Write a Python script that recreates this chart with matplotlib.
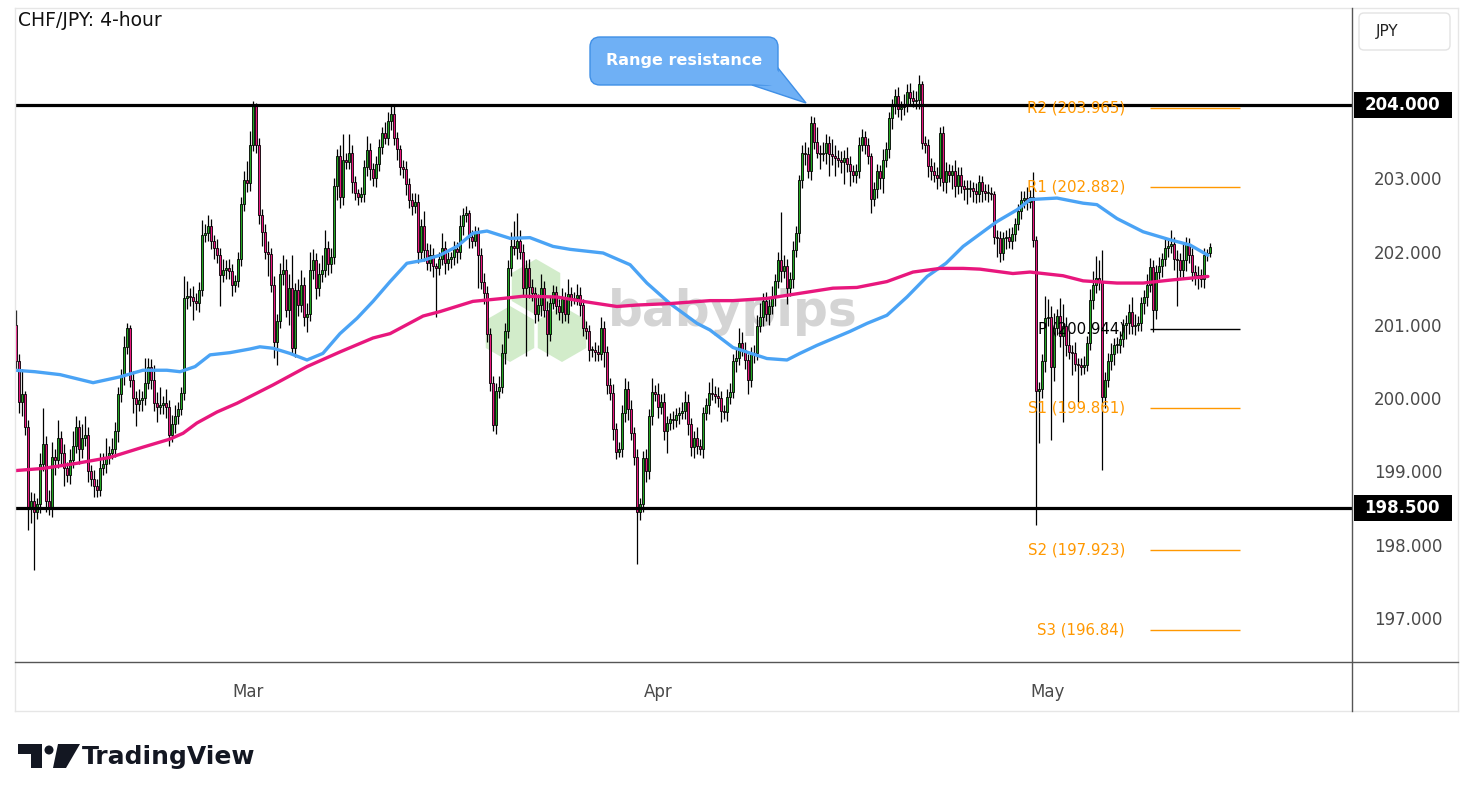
import matplotlib
matplotlib.use("Agg")
import matplotlib.pyplot as plt
from matplotlib.patches import FancyBboxPatch, Polygon, RegularPolygon, Rectangle, Circle
import numpy as np

# ---------------- data ----------------
title = "CHF/JPY: 4-hour"
first_open = 201.00
closes = [
    200.50, 199.95, 200.05, 199.60, 198.50, 198.60, 198.45, 198.55, 199.10, 199.38,
    198.60, 198.50, 199.20, 199.15, 199.45, 199.25, 199.05, 198.95, 199.15, 199.35,
    199.60, 199.30, 199.45, 199.50, 199.00, 198.90, 198.80, 198.75, 199.05, 199.10,
    199.20, 199.25, 199.30, 199.55, 200.05, 200.30, 200.70, 200.95, 200.25, 200.00,
    199.92, 199.97, 200.00, 200.20, 200.43, 200.25, 199.93, 199.88, 199.90, 199.93,
    199.88, 199.50, 199.65, 199.75, 199.85, 200.07, 201.37, 201.40, 201.38, 201.32,
    201.30, 201.48, 202.23, 202.25, 202.35, 202.15, 202.05, 201.95, 201.68, 201.75,
    201.78, 201.73, 201.55, 201.60, 201.90, 202.65, 202.98, 202.93, 203.45, 203.98,
    203.45, 202.50, 202.27, 202.00, 201.97, 201.55, 200.77, 201.05, 201.70, 201.75,
    201.20, 201.50, 200.68, 201.47, 201.27, 201.55, 201.10, 201.15, 201.75, 201.88,
    201.50, 201.70, 201.75, 202.05, 201.83, 201.93, 202.90, 203.30, 202.75, 203.25,
    203.22, 203.35, 202.95, 202.80, 202.75, 202.78, 203.15, 203.38, 203.13, 203.00,
    203.20, 203.43, 203.62, 203.55, 203.78, 203.88, 203.55, 203.40, 203.15, 203.13,
    202.92, 202.70, 202.62, 202.68, 202.00, 202.35, 202.02, 201.85, 201.95, 201.80,
    201.78, 201.90, 202.05, 201.85, 201.90, 201.92, 202.03, 202.00, 202.35, 202.50,
    202.52, 202.20, 202.15, 202.25, 201.95, 201.59, 201.43, 200.88, 200.20, 199.63,
    200.10, 200.15, 200.62, 200.92, 201.78, 202.07, 202.05, 202.15, 202.00, 201.50,
    201.78, 201.52, 201.43, 201.15, 201.27, 201.50, 201.20, 200.88, 201.30, 201.45,
    201.25, 201.18, 201.35, 201.15, 201.42, 201.36, 201.37, 201.41, 201.27, 200.95,
    200.92, 200.66, 200.66, 200.63, 200.60, 200.95, 200.63, 200.18, 200.07, 199.58,
    199.27, 199.30, 199.80, 200.13, 199.85, 199.53, 199.20, 198.45, 198.55, 199.18,
    199.00, 199.75, 200.08, 200.06, 199.88, 199.95, 199.55, 199.66, 199.72, 199.70,
    199.77, 199.80, 199.82, 199.95, 199.65, 199.33, 199.45, 199.34, 199.30, 199.80,
    199.90, 200.07, 200.06, 200.03, 200.00, 199.83, 199.81, 200.02, 200.08, 200.50,
    200.55, 200.75, 200.66, 200.52, 200.25, 200.60, 200.62, 200.98, 201.10, 201.33,
    201.15, 201.25, 201.38, 201.60, 201.89, 201.74, 201.80, 201.50, 201.62, 202.02,
    202.25, 202.97, 203.35, 203.33, 203.10, 203.75, 203.50, 203.35, 203.33, 203.35,
    203.48, 203.33, 203.30, 203.28, 203.25, 203.22, 203.28, 203.20, 203.10, 203.05,
    203.10, 203.45, 203.57, 203.45, 203.30, 202.72, 202.85, 203.10, 203.00, 203.25,
    203.40, 203.82, 203.98, 204.12, 203.95, 203.97, 204.00, 204.18, 204.10, 204.05,
    204.07, 204.28, 203.48, 203.45, 203.17, 203.10, 203.05, 203.00, 203.62, 202.95,
    203.10, 203.05, 203.10, 202.90, 203.05, 202.90, 202.85, 202.85, 202.87, 202.82,
    202.78, 202.95, 202.82, 202.80, 202.80, 202.78, 202.20, 202.18, 201.98, 202.18,
    202.20, 202.15, 202.24, 202.38, 202.55, 202.71, 202.73, 202.67, 202.74, 202.16,
    200.09, 200.12, 200.50, 201.09, 201.10, 200.43, 200.96, 201.12, 200.85, 200.98,
    200.72, 200.63, 200.61, 200.47, 200.45, 200.43, 200.45, 200.75, 201.34, 201.54,
    201.64, 201.60, 200.02, 200.25, 200.50, 200.60, 200.72, 200.73, 200.80, 201.00,
    201.03, 201.18, 200.98, 201.00, 201.02, 201.30, 201.38, 201.55, 201.79, 201.20,
    201.72, 201.80, 201.90, 202.05, 202.08, 202.10, 201.90, 201.88, 201.75, 201.88,
    202.10, 201.95, 201.72, 201.64, 201.68, 201.62, 201.95, 201.98, 202.06,
]
wick_up = [
    0.20, 0.10, 0.35, 0.05, 0.10, 0.12, 0.10, 0.08, 0.15, 0.48, 0.10, 0.15, 0.20, 0.10, 0.25, 0.10, 0.12, 0.08, 0.15, 0.20,
    0.15, 0.10, 0.20, 0.25, 0.10, 0.08, 0.12, 0.10, 0.20, 0.15, 0.25, 0.10, 0.15, 0.12, 0.10, 0.10, 0.15, 0.08, 0.05, 0.12,
    0.10, 0.15, 0.10, 0.35, 0.12, 0.10, 0.20, 0.15, 0.25, 0.10, 0.20, 0.10, 0.12, 0.15, 0.10, 0.08, 0.30, 0.20, 0.10, 0.15,
    0.12, 0.10, 0.20, 0.12, 0.15, 0.10, 0.08, 0.12, 0.10, 0.15, 0.10, 0.12, 0.10, 0.08, 0.10, 0.10, 0.12, 0.25, 0.20, 0.07,
    0.05, 0.10, 0.08, 0.10, 0.15, 0.08, 0.12, 0.10, 0.15, 0.20, 0.15, 0.20, 0.45, 0.10, 0.15, 0.20, 0.10, 0.15, 0.25, 0.15,
    0.10, 0.15, 0.20, 0.25, 0.10, 0.12, 0.10, 0.10, 0.15, 0.35, 0.10, 0.25, 0.10, 0.08, 0.05, 0.10, 0.10, 0.20, 0.10, 0.08,
    0.10, 0.10, 0.08, 0.15, 0.12, 0.14, 0.10, 0.08, 0.05, 0.10, 0.10, 0.08, 0.10, 0.12, 0.10, 0.10, 0.20, 0.10, 0.15, 0.10,
    0.05, 0.10, 0.20, 0.10, 0.10, 0.08, 0.12, 0.10, 0.15, 0.10, 0.10, 0.05, 0.10, 0.10, 0.08, 0.10, 0.12, 0.10, 0.08, 0.10,
    0.10, 0.15, 0.12, 0.10, 0.10, 0.20, 0.35, 0.38, 0.15, 0.10, 0.10, 0.12, 0.10, 0.08, 0.15, 0.20, 0.10, 0.12, 0.10, 0.10,
    0.08, 0.10, 0.15, 0.10, 0.20, 0.10, 0.08, 0.15, 0.10, 0.08, 0.10, 0.08, 0.05, 0.10, 0.10, 0.15, 0.10, 0.08, 0.10, 0.12,
    0.08, 0.10, 0.10, 0.15, 0.10, 0.12, 0.08, 0.10, 0.08, 0.10, 0.12, 0.10, 0.20, 0.10, 0.15, 0.10, 0.12, 0.10, 0.08, 0.10,
    0.10, 0.08, 0.12, 0.15, 0.10, 0.08, 0.10, 0.15, 0.10, 0.08, 0.10, 0.15, 0.20, 0.10, 0.12, 0.10, 0.08, 0.10, 0.12, 0.10,
    0.12, 0.20, 0.15, 0.10, 0.08, 0.10, 0.10, 0.15, 0.20, 0.10, 0.12, 0.10, 0.15, 0.10, 0.10, 0.65, 0.15, 0.10, 0.10, 0.12,
    0.10, 0.08, 0.10, 0.15, 0.10, 0.10, 0.08, 0.20, 0.10, 0.15, 0.12, 0.10, 0.20, 0.15, 0.10, 0.12, 0.10, 0.15, 0.10, 0.08,
    0.10, 0.12, 0.10, 0.08, 0.10, 0.05, 0.10, 0.10, 0.08, 0.15, 0.10, 0.08, 0.10, 0.10, 0.12, 0.08, 0.15, 0.10, 0.12, 0.10,
    0.12, 0.13, 0.05, 0.10, 0.08, 0.10, 0.12, 0.10, 0.08, 0.10, 0.12, 0.10, 0.08, 0.15, 0.10, 0.10, 0.08, 0.12, 0.10, 0.08,
    0.12, 0.10, 0.08, 0.10, 0.12, 0.08, 0.05, 0.10, 0.10, 0.08, 0.10, 0.12, 0.10, 0.08, 0.10, 0.12, 0.10, 0.15, 0.10, 0.35,
    0.05, 0.10, 0.10, 0.30, 0.25, 0.15, 0.20, 0.10, 0.25, 0.30, 0.12, 0.20, 0.10, 0.15, 0.08, 0.10, 0.12, 0.10, 0.15, 0.20,
    0.30, 0.25, 0.42, 0.10, 0.12, 0.15, 0.10, 0.10, 0.12, 0.08, 0.10, 0.10, 0.20, 0.15, 0.10, 0.08, 0.10, 0.15, 0.12, 0.10,
    0.10, 0.12, 0.08, 0.15, 0.10, 0.20, 0.10, 0.12, 0.10, 0.25, 0.10, 0.08, 0.10, 0.10, 0.12, 0.08, 0.10, 0.05, 0.05,
]
wick_dn = [
    0.10, 0.15, 0.20, 0.10, 0.30, 0.20, 0.80, 0.10, 0.12, 0.10, 0.15, 0.10, 0.12, 0.20, 0.10, 0.15, 0.25, 0.10, 0.12, 0.10,
    0.10, 0.20, 0.12, 0.10, 0.15, 0.10, 0.15, 0.10, 0.08, 0.10, 0.12, 0.10, 0.08, 0.10, 0.15, 0.10, 0.12, 0.10, 0.10, 0.20,
    0.30, 0.10, 0.15, 0.10, 0.08, 0.12, 0.10, 0.20, 0.10, 0.12, 0.15, 0.15, 0.10, 0.12, 0.10, 0.08, 0.10, 0.15, 0.12, 0.25,
    0.10, 0.12, 0.08, 0.10, 0.10, 0.12, 0.15, 0.10, 0.42, 0.10, 0.12, 0.10, 0.15, 0.10, 0.08, 0.10, 0.10, 0.12, 0.10, 0.08,
    0.10, 0.12, 0.20, 0.10, 0.30, 0.10, 0.22, 0.32, 0.10, 0.15, 0.10, 0.20, 0.08, 0.12, 0.15, 0.10, 0.12, 0.20, 0.10, 0.12,
    0.15, 0.10, 0.12, 0.10, 0.15, 0.12, 0.10, 0.20, 0.15, 0.12, 0.10, 0.10, 0.15, 0.10, 0.12, 0.08, 0.10, 0.12, 0.15, 0.10,
    0.12, 0.10, 0.10, 0.08, 0.10, 0.12, 0.10, 0.15, 0.10, 0.12, 0.15, 0.10, 0.12, 0.10, 0.15, 0.10, 0.15, 0.10, 0.12, 0.15,
    0.67, 0.10, 0.08, 0.15, 0.10, 0.12, 0.10, 0.15, 0.10, 0.12, 0.10, 0.15, 0.10, 0.08, 0.45, 0.10, 0.15, 0.12, 0.10, 0.08,
    0.12, 0.10, 0.08, 0.15, 0.10, 0.12, 0.10, 0.15, 0.10, 0.12, 0.93, 0.15, 0.10, 0.12, 0.10, 0.15, 0.10, 0.30, 0.10, 0.08,
    0.10, 0.12, 0.15, 0.10, 0.12, 0.10, 0.08, 0.10, 0.15, 0.10, 0.12, 0.15, 0.10, 0.12, 0.10, 0.08, 0.20, 0.12, 0.10, 0.15,
    0.10, 0.08, 0.10, 0.12, 0.15, 0.10, 0.12, 0.72, 0.12, 0.10, 0.15, 0.10, 0.12, 0.10, 0.15, 0.10, 0.12, 0.30, 0.10, 0.12,
    0.10, 0.12, 0.08, 0.10, 0.15, 0.12, 0.15, 0.10, 0.08, 0.12, 0.10, 0.12, 0.08, 0.10, 0.12, 0.15, 0.10, 0.12, 0.10, 0.08,
    0.15, 0.10, 0.08, 0.12, 0.20, 0.10, 0.12, 0.10, 0.08, 0.12, 0.10, 0.15, 0.10, 0.12, 0.10, 0.15, 0.10, 0.22, 0.10, 0.12,
    0.10, 0.12, 0.10, 0.15, 0.10, 0.12, 0.10, 0.08, 0.20, 0.10, 0.15, 0.30, 0.12, 0.25, 0.10, 0.15, 0.30, 0.12, 0.20, 0.10,
    0.12, 0.10, 0.08, 0.12, 0.10, 0.19, 0.10, 0.12, 0.15, 0.20, 0.10, 0.12, 0.15, 0.10, 0.12, 0.15, 0.10, 0.10, 0.12, 0.08,
    0.10, 0.12, 0.08, 0.10, 0.15, 0.12, 0.10, 0.15, 0.10, 0.12, 0.15, 0.10, 0.20, 0.15, 0.12, 0.10, 0.15, 0.20, 0.10, 0.15,
    0.12, 0.10, 0.15, 0.10, 0.12, 0.08, 0.10, 0.25, 0.12, 0.10, 0.15, 0.10, 0.12, 0.10, 0.08, 0.10, 0.12, 0.10, 0.08, 0.10,
    1.82, 0.70, 0.12, 0.15, 0.10, 1.00, 0.20, 0.10, 0.15, 1.17, 0.15, 0.10, 0.30, 0.10, 0.50, 0.12, 0.10, 0.08, 0.10, 0.12,
    0.10, 0.12, 1.00, 0.15, 0.10, 0.12, 0.15, 0.10, 0.12, 0.10, 0.20, 0.15, 0.10, 0.12, 0.08, 0.10, 0.15, 0.12, 0.10, 0.30,
    0.12, 0.10, 0.15, 0.10, 0.12, 0.10, 0.15, 0.63, 0.10, 0.12, 0.15, 0.10, 0.12, 0.10, 0.15, 0.10, 0.12, 0.08, 0.05,
]

# moving averages (candle index, price)
ma_fast_idx = [-0.3, 6.3, 14.7, 25.7, 34.7, 42.3, 50.3, 54.7, 59.7, 64.7, 71.3, 78, 81.3, 85.7, 91.3, 97,
               102.3, 108, 113.7, 119, 124.7, 130.3, 135.7, 141.3, 147, 152.3, 157, 164.7, 171.3, 179,
               184.7, 195.7, 204.7, 210.3, 218, 227, 231.3, 239, 250.3, 257, 261.3, 267, 278, 283.7,
               290.3, 297, 303.7, 310, 315.7, 327, 333.7, 338, 347, 355.7, 360.3, 367, 375.7, 384.7,
               391.3, 397.3]
ma_fast_val = [200.38, 200.36, 200.32, 200.21, 200.29, 200.38, 200.38, 200.36, 200.43, 200.59, 200.62,
               200.67, 200.70, 200.68, 200.61, 200.52, 200.61, 200.88, 201.09, 201.32, 201.59, 201.84,
               201.88, 201.95, 202.07, 202.25, 202.28, 202.18, 202.19, 202.07, 202.03, 201.98, 201.82,
               201.57, 201.29, 201.02, 200.93, 200.69, 200.54, 200.52, 200.61, 200.72, 200.91, 201.02,
               201.13, 201.38, 201.66, 201.84, 202.07, 202.41, 202.57, 202.71, 202.73, 202.66, 202.64,
               202.45, 202.27, 202.16, 202.09, 201.95]
ma_slow_idx = [-0.3, 9, 20.3, 31.3, 42.3, 51.3, 55.7, 60.3, 67, 73.7, 78, 85.7, 97, 108, 119, 124.7,
               135.7, 141.3, 152.3, 162.3, 169, 180.3, 189, 200.3, 207, 218, 231.3, 239, 250.3, 261.3,
               272.3, 280.3, 290.3, 299, 308, 315.7, 321.3, 332.3, 338, 349, 355.7, 367, 375.7, 384.7,
               397.3]
ma_slow_val = [199.01, 199.04, 199.11, 199.19, 199.33, 199.44, 199.52, 199.66, 199.81, 199.93, 200.02,
               200.18, 200.43, 200.63, 200.82, 200.88, 201.12, 201.18, 201.32, 201.36, 201.39, 201.38,
               201.32, 201.25, 201.27, 201.29, 201.33, 201.33, 201.36, 201.43, 201.50, 201.51, 201.59,
               201.72, 201.77, 201.77, 201.76, 201.70, 201.72, 201.67, 201.60, 201.57, 201.57, 201.61,
               201.66]

range_levels = [204.0, 198.5]
pivot_names = ["R2", "R1", "P", "S1", "S2", "S3"]
pivot_values = [203.965, 202.882, 200.944, 199.861, 197.923, 196.84]
pivot_texts = ["R2 (203.965)", "R1 (202.882)", "P (200.944)", "S1 (199.861)", "S2 (197.923)", "S3 (196.84)"]
price_ticks = [197.0, 198.0, 199.0, 200.0, 201.0, 202.0, 203.0]
month_labels = ["Mar", "Apr", "May"]
month_idx = [77.3, 214, 344]
callout_text = "Range resistance"

# ---------------- figure ----------------
W, H = 1473, 802
fig = plt.figure(figsize=(W / 100, H / 100), dpi=100)
fig.patch.set_facecolor("white")

bg = fig.add_axes([0, 0, 1, 1], zorder=0)
bg.set_xlim(0, W); bg.set_ylim(H, 0); bg.axis("off")

L, R, T, B = 15, 1352, 8, 662
ax = fig.add_axes([L / W, (H - B) / H, (R - L) / W, (B - T) / H], zorder=5)
ax.patch.set_alpha(0)
ax.set_xlim(-0.33, 445.33)
ax.set_ylim(196.398, 205.324)
for s in ax.spines.values():
    s.set_visible(False)

fg = fig.add_axes([0, 0, 1, 1], zorder=10)
fg.set_xlim(0, W); fg.set_ylim(H, 0); fg.axis("off")
fg.patch.set_alpha(0)

# watermark (behind candles)
hex_col = "#cdeac5"
for cx, cy in [(536, 287), (510, 334), (562, 334)]:
    bg.add_patch(RegularPolygon((cx, cy), 6, radius=28, orientation=0,
                                facecolor=hex_col, edgecolor="none", alpha=0.9))
bg.text(733, 312, "babypips", ha="center", va="center", fontsize=35,
        fontweight="bold", color="#d4d4d4", family="DejaVu Sans")

# candles
n = min(len(closes), len(wick_up), len(wick_dn))
c = np.array(closes[:n])
o = np.concatenate([[first_open], c[:-1]])
hi = np.maximum(o, c) + np.array(wick_up[:n])
lo = np.minimum(o, c) - np.array(wick_dn[:n])
x = np.arange(n)
up = c >= o
ax.vlines(x, lo, hi, color="black", lw=0.9, zorder=2)
body_h = np.maximum(np.abs(c - o), 0.012)
body_b = np.minimum(o, c)
ax.bar(x[up], body_h[up], bottom=body_b[up], width=0.8, color="#23a623",
       edgecolor="black", linewidth=0.6, zorder=3)
ax.bar(x[~up], body_h[~up], bottom=body_b[~up], width=0.8, color="#e8177d",
       edgecolor="black", linewidth=0.6, zorder=3)

# moving averages
ax.plot(ma_fast_idx, ma_fast_val, color="#4aa3f5", lw=2.4, zorder=4, solid_capstyle="round")
ax.plot(ma_slow_idx, ma_slow_val, color="#e8177d", lw=2.4, zorder=4, solid_capstyle="round")

# range lines
for lv in range_levels:
    ax.axhline(lv, color="black", lw=2.3, zorder=5)

# pivots
for name, val, txt in zip(pivot_names, pivot_values, pivot_texts):
    col = "black" if name == "P" else "#ff9800"
    ax.hlines(val, 378, 408, color=col, lw=1.0, zorder=5)
    ax.text(369.7, val, txt, ha="right", va="center", fontsize=10.8, color=col, zorder=6)

# axes ticks
ax.yaxis.tick_right()
ax.set_yticks(price_ticks)
ax.set_yticklabels([f"{v:.3f}" for v in price_ticks])
ax.tick_params(axis="y", length=0, pad=16, labelsize=12, labelcolor="#4a4a4a")
ax.set_xticks(month_idx)
ax.set_xticklabels(month_labels)
ax.tick_params(axis="x", length=0, pad=15, labelsize=12, labelcolor="#4a4a4a")

# highlighted price labels
ytr = ax.get_yaxis_transform()
for lv in range_levels:
    ax.add_patch(Rectangle((1.0015, lv - 0.175), 0.0733, 0.35, transform=ytr,
                           facecolor="black", edgecolor="none", clip_on=False, zorder=7))
    ax.text(1.0375, lv, f"{lv:.3f}", transform=ytr, ha="center", va="center",
            fontsize=12, fontweight="bold", color="white", clip_on=False, zorder=8)

# frame lines
fg.plot([15, 1458], [8, 8], color="#e6e6e6", lw=1)
fg.plot([15, 15], [8, 711], color="#e6e6e6", lw=1)
fg.plot([15, 1458], [711, 711], color="#e6e6e6", lw=1)
fg.plot([1458, 1458], [8, 711], color="#e6e6e6", lw=1)
fg.plot([15, 1458], [662, 662], color="#555555", lw=1)
fg.plot([1352, 1352], [8, 711], color="#555555", lw=1)

# JPY box
fg.add_patch(FancyBboxPatch((1359, 13), 91, 37, boxstyle="round,pad=0,rounding_size=5",
                            facecolor="white", edgecolor="#e3e3e3", lw=1))
fg.text(1387, 31.5, "JPY", ha="center", va="center", fontsize=11, color="#222222")

# title
fg.text(18, 21, title, ha="left", va="center", fontsize=13.5, color="#111111")

# callout
cfill, cedge = "#6fb0f5", "#3f8fe6"
fg.add_patch(Polygon([(752, 85), (778, 68), (806, 103)], closed=True,
                     facecolor=cfill, edgecolor=cedge, lw=1, zorder=2))
fg.add_patch(FancyBboxPatch((590, 37), 188, 48, boxstyle="round,pad=0,rounding_size=10",
                            facecolor=cfill, edgecolor=cedge, lw=1, zorder=3))
fg.add_patch(Polygon([(754, 84), (777, 70), (790, 86), (777, 86)], closed=True,
                     facecolor=cfill, edgecolor="none", zorder=4))
fg.text(684, 60, callout_text, ha="center", va="center", fontsize=11.5,
        fontweight="bold", color="white", zorder=5)

# TradingView logo
fg.add_patch(Rectangle((18, 744), 24, 10, facecolor="#131722", edgecolor="none"))
fg.add_patch(Rectangle((31, 744), 11, 24, facecolor="#131722", edgecolor="none"))
fg.add_patch(Circle((49, 750), 4.5, facecolor="#131722", edgecolor="none"))
fg.add_patch(Polygon([(58, 744), (80, 744), (66, 768), (53, 768)], closed=True,
                     facecolor="#131722", edgecolor="none"))
fg.text(82, 757, "TradingView", ha="left", va="center", fontsize=18,
        fontweight="bold", color="#131722")

fig.savefig("out.png", dpi=100, facecolor="white")
